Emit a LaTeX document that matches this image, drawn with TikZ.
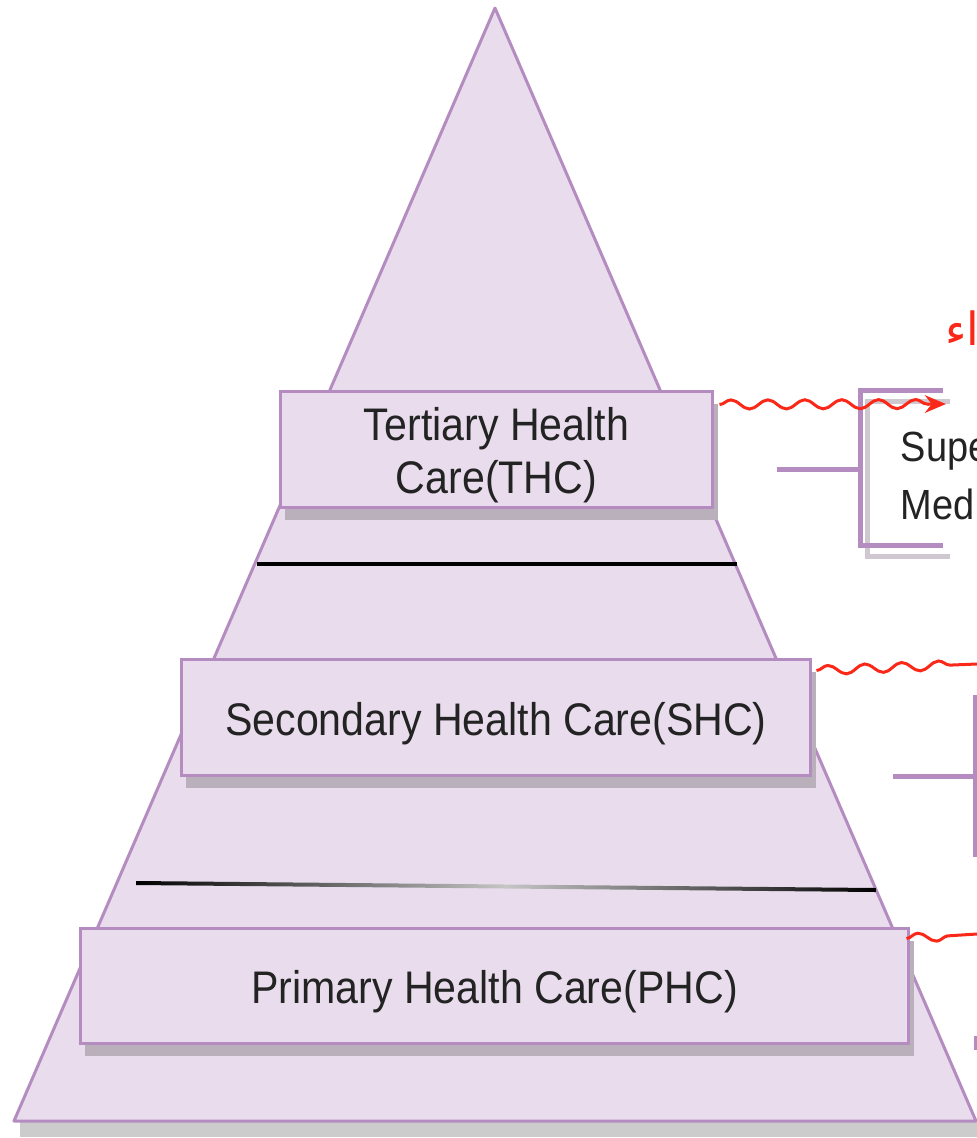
\documentclass[tikz,border=0pt]{standalone}
\usepackage{fontspec}
\setmainfont{Liberation Sans}
\newfontfamily\boxfont{Liberation Sans}[FakeStretch=0.9]
\newfontfamily\arabicfont[Script=Arabic]{DejaVu Sans}
\TeXXeTstate=1
\usepackage{tikz}
\usetikzlibrary{arrows.meta,decorations.pathmorphing,shadows}
\definecolor{pyrfill}{RGB}{233,221,237}
\definecolor{pyrline}{RGB}{180,140,192}
\definecolor{boxshade}{RGB}{186,176,188}
\definecolor{baseshade}{RGB}{204,204,204}
\definecolor{scribblered}{RGB}{250,40,25}
\definecolor{inkgray}{RGB}{35,35,35}
\newcommand{\lowstrut}{\rule{0pt}{13pt}}
\tikzset{levelbox/.style={draw=pyrline,fill=pyrfill,line width=0.3mm,rectangle,inner sep=0,align=center,
        text=inkgray,font=\boxfont\fontsize{13}{15}\selectfont,
        drop shadow={shadow xshift=0.5mm,shadow yshift=-1.3mm,fill=boxshade,opacity=1}},
    bracketline/.style={draw=pyrline,line width=0.5mm},
    bracketshadow/.style={draw=boxshade!70,line width=0.5mm},
    scribble/.style={draw=scribblered,line width=0.3mm,decorate,
        decoration={snake,amplitude=1.3pt,segment length=10.5pt,post length=4pt}}
}
\begin{document}
\begin{tikzpicture}[x=0.1mm,y=-0.1mm]
\useasboundingbox (0,0) rectangle (977,1138);

% pyramid
\fill[baseshade] (20,1121) rectangle (977,1137);
\filldraw[fill=pyrfill,draw=pyrline,line width=0.3mm,line join=round] (495,8) -- (976,1121) -- (14,1121) -- cycle;

% dividers
\draw[line width=0.45mm] (257,564) -- (737,564);
\shade[left color=black,right color=black,middle color=gray!45] (136,881) -- (876,888) -- (876,892) -- (136,885) -- cycle;

% levels
\node (boxT) [levelbox,minimum width=43.3mm,minimum height=11.6mm] at (496.5,449) {\lowstrut Tertiary Health\\Care(THC)};
\node (boxS) [levelbox,minimum width=63mm,minimum height=11.6mm] at (496,717) {\lowstrut Secondary Health Care(SHC)};
\node (boxP) [levelbox,minimum width=82.9mm,minimum height=11.5mm] at (494.5,985.5) {\lowstrut Primary Health Care(PHC)};

% brackets on the right
\draw[bracketshadow] (950,401) -- (867,401) -- (867,556) -- (950,556);
\draw[bracketline] (943,390) -- (860,390) -- (860,545) -- (943,545);
\draw[bracketline] (777,469) -- (860,469);
\node (txtSup) [anchor=west,align=left,text=inkgray,font=\boxfont\fontsize{12}{16.5}\selectfont,inner sep=0] at (900,476) {Supe\\Med};

\draw[bracketline] (893,776) -- (975,776);
\draw[bracketline] (975,695) -- (975,857);
\draw[bracketline] (976,1036) -- (976,1050);

% red notes
\coordinate (tipT) at (946,404);
\coordinate (endS) at (977,664);
\coordinate (endP) at (977,934);
\draw[scribble,-{Stealth[length=6pt,width=5pt]}] ([shift={(5,15)}]boxT.north east) -- (tipT);
\draw[scribble] ([shift={(4,13)}]boxS.north east) -- (endS);
\draw[scribble] ([shift={(-4,12)}]boxP.north east) -- (endP);
\node (noteAr) [anchor=east,text=scribblered,font=\arabicfont\fontsize{13}{13}\selectfont,inner sep=0] at (980,328) {\beginR اء\endR};

\end{tikzpicture}
\end{document}
